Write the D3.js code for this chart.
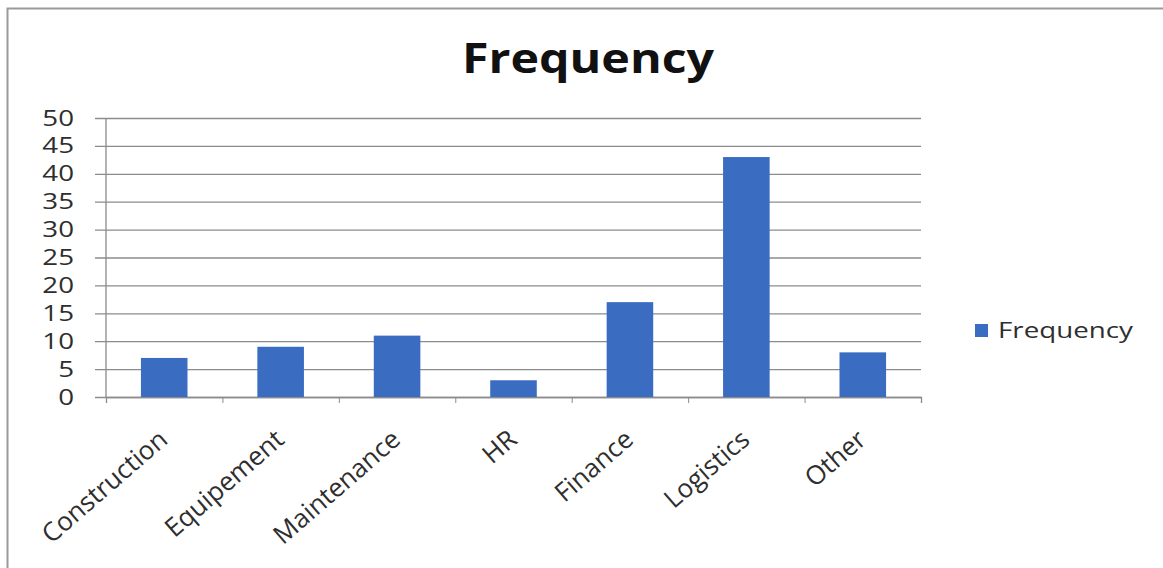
<!DOCTYPE html>
<html>
<head>
<meta charset="utf-8">
<script src="https://cdn.jsdelivr.net/npm/d3@7"></script>
<style>
  html, body { margin: 0; padding: 0; background: #fff; }
  svg { display: block; }
</style>
</head>
<body>
<svg id="chart" width="1163" height="568"></svg>
<script>
// Department counts
const categories = ["Construction", "Equipement", "Maintenance", "HR", "Finance", "Logistics", "Other"];
const frequency = [7, 9, 11, 3, 17, 43, 8];
const yTicks = [0, 5, 10, 15, 20, 25, 30, 35, 40, 45, 50];
const seriesName = "Frequency";
const chartTitle = "Frequency";

const W = 1163, H = 568;
const plot = { left: 106, right: 921, top: 118, bottom: 397 };
const font = "'Open Sans', 'DejaVu Sans', sans-serif";
const barColor = "#3a6dc1";
const gridColor = "#8c8c8c";
const labelColor = "#2e2e2e";

const svg = d3.select("#chart");

// Frame
svg.append("rect").attr("x", 0).attr("y", 0).attr("width", W).attr("height", H).attr("fill", "#fff");
svg.append("path")
  .attr("d", `M7.5,${H} V8.5 H${W}`)
  .attr("fill", "none").attr("stroke", "#9a9a9a").attr("stroke-width", 2);

const x = d3.scaleBand().domain(categories).range([plot.left, plot.right]).paddingInner(0.6).paddingOuter(0.3);
const xTickScale = d3.scaleLinear().domain([0, categories.length]).range([plot.left, plot.right]);
const y = d3.scaleLinear().domain([0, 50]).range([plot.bottom, plot.top]);

// Horizontal gridlines with small left tick marks
const yAxis = d3.axisLeft(y).tickValues(yTicks).tickSize(plot.right - plot.left + 11).tickFormat("");
const gy = svg.append("g").attr("transform", `translate(${plot.right},0)`).call(yAxis);
gy.select(".domain").remove();
gy.selectAll(".tick line").attr("stroke", gridColor).attr("stroke-width", 1.3);

// Value labels, drawn slightly wide like the original typeface
svg.append("g").selectAll("text")
  .data(yTicks)
  .join("text")
  .attr("transform", d => `translate(74,${y(d)}) scale(1.32,1)`)
  .attr("text-anchor", "end")
  .attr("dy", "0.36em")
  .attr("font-family", font).attr("font-size", 21).attr("fill", labelColor)
  .text(d3.format("d"));

// Vertical axis line
svg.append("line")
  .attr("x1", plot.left).attr("x2", plot.left)
  .attr("y1", plot.top).attr("y2", plot.bottom)
  .attr("stroke", gridColor).attr("stroke-width", 1.3);

// Category axis with boundary ticks
const xAxisLine = d3.axisBottom(xTickScale).tickValues(d3.range(categories.length + 1)).tickSize(6).tickFormat("");
const gx = svg.append("g").attr("transform", `translate(0,${plot.bottom})`).call(xAxisLine);
gx.select(".domain").attr("stroke", gridColor).attr("stroke-width", 1.3);
gx.selectAll(".tick line").attr("stroke", gridColor);

// Bars
svg.append("g").selectAll("rect")
  .data(categories.map((c, i) => ({ c, v: frequency[i] })))
  .join("rect")
  .attr("x", d => x(d.c))
  .attr("width", x.bandwidth())
  .attr("y", d => y(d.v))
  .attr("height", d => y(0) - y(d.v))
  .attr("fill", barColor);

// Rotated category labels
svg.append("g").selectAll("text")
  .data(categories)
  .join("text")
  .attr("transform", d => `translate(${x(d) + x.bandwidth() / 2 + 5},${plot.bottom + 45}) rotate(-41)`)
  .attr("text-anchor", "end")
  .attr("font-family", font).attr("font-size", 26).attr("fill", labelColor)
  .text(d => d);

// Title
svg.append("text")
  .attr("transform", "translate(588,73) scale(1.18,1)")
  .attr("text-anchor", "middle")
  .attr("font-family", font).attr("font-weight", "bold").attr("font-size", 41).attr("fill", "#111")
  .text(chartTitle);

// Legend
const lg = svg.append("g").attr("transform", "translate(975,324)");
lg.append("rect").attr("x", 0).attr("y", 0).attr("width", 13).attr("height", 13).attr("fill", barColor);
lg.append("text").attr("transform", "translate(23,6.5) scale(1.26,1)").attr("dy", "0.36em")
  .attr("font-family", font).attr("font-size", 22).attr("fill", labelColor)
  .text(seriesName);
</script>
</body>
</html>
